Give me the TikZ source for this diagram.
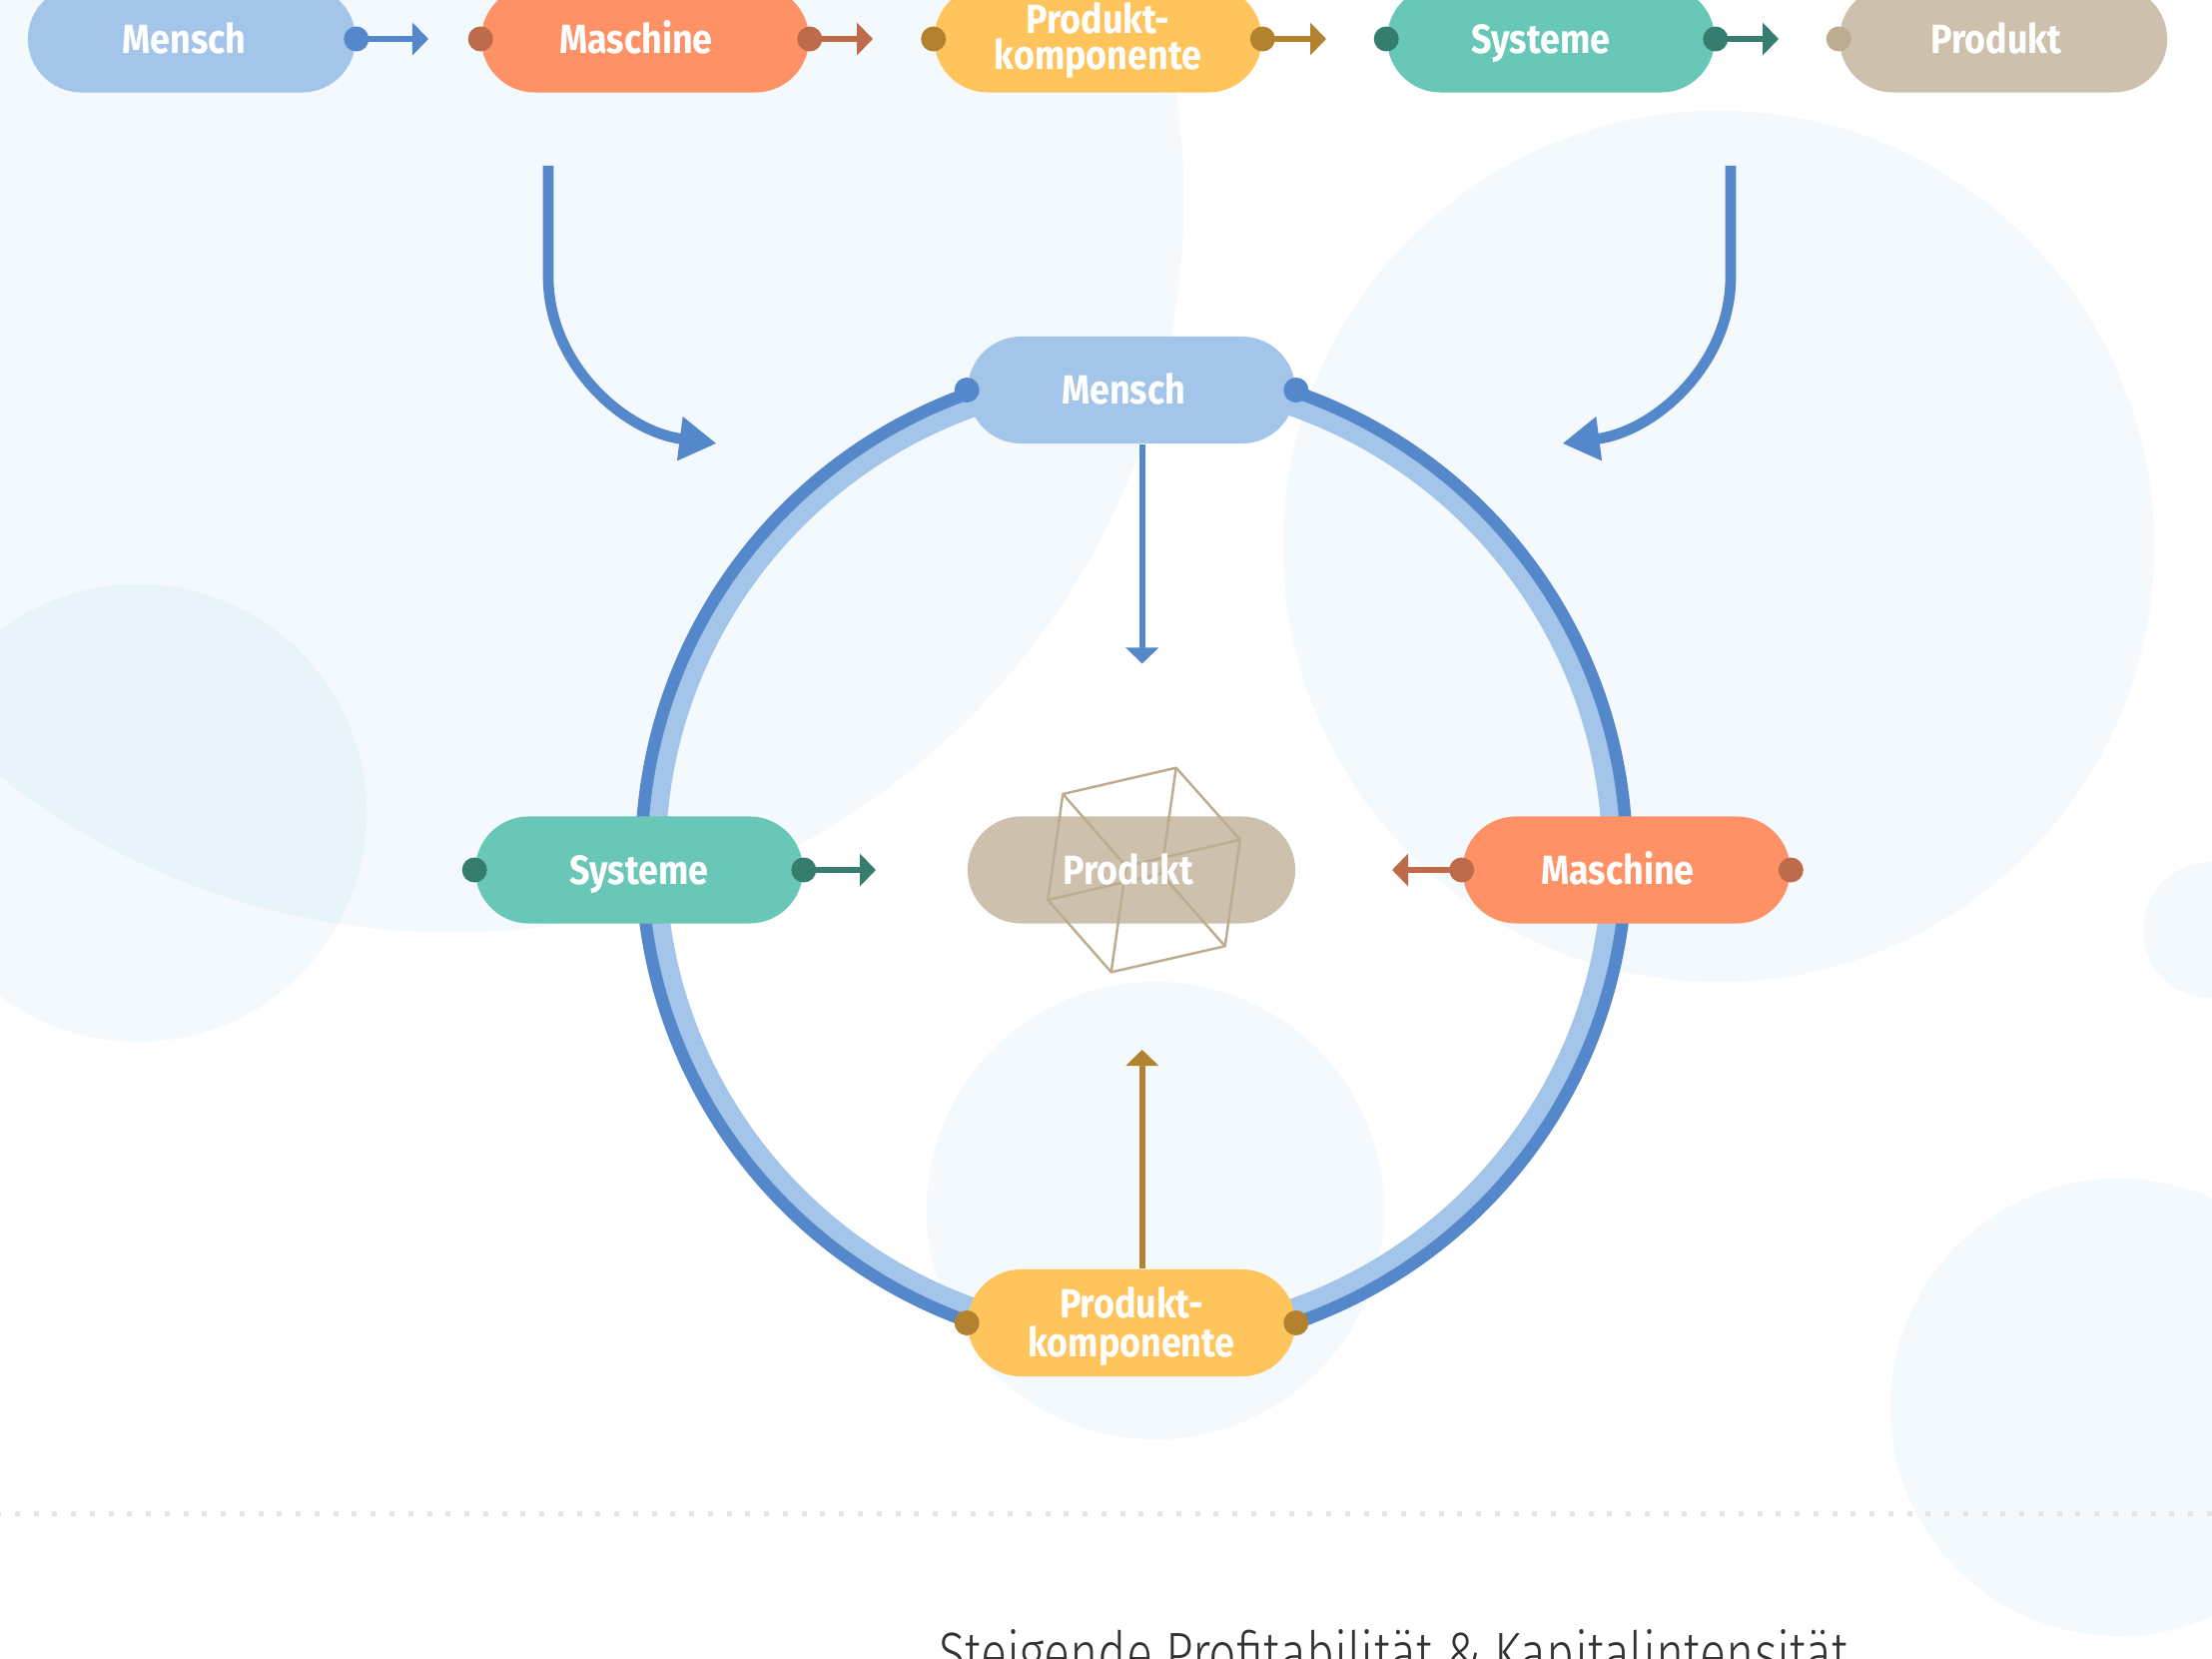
\documentclass[tikz,border=0pt]{standalone}
\usepackage{fontspec}
\setmainfont{Fira Sans}[FakeStretch=0.88]
\newfontfamily\captionfont{Fira Sans Light}[FakeStretch=0.81]
\usetikzlibrary{arrows.meta,shapes.misc}

\definecolor{bubble}{HTML}{4E9FD6}
\definecolor{blueL}{HTML}{A4C5EA}
\definecolor{blueD}{HTML}{5588CB}
\definecolor{coralL}{HTML}{FF9166}
\definecolor{coralD}{HTML}{BD6B4A}
\definecolor{yellowL}{HTML}{FFC45C}
\definecolor{yellowD}{HTML}{B3822E}
\definecolor{tealL}{HTML}{69C7B7}
\definecolor{tealD}{HTML}{347D6F}
\definecolor{tanL}{HTML}{CDC0AC}
\definecolor{tanD}{HTML}{BCAD90}

\tikzset{
  pill/.style={rounded rectangle,minimum width=3.28cm,minimum height=1.07cm,inner sep=0pt,
    text=white,font=\bfseries\fontsize{11.6}{10.9}\selectfont,text height=.28cm,text depth=0pt},
  pilltext/.style={inner sep=0pt,text=white,font=\bfseries\fontsize{11.6}{10.9}\selectfont,align=center},
  bubblefill/.style={fill=bubble,fill opacity=.065},
  dotmark/.style={circle,minimum size=.25cm,inner sep=0pt,outer sep=0pt},
  thinarrow/.style={line width=.06cm,-{Triangle[length=.16cm,width=.32cm]}},
  bigarrow/.style={blueD,line width=.107cm,-{Triangle[length=.37cm,width=.42cm]}},
  cubeline/.style={tanD,line width=.025cm,line join=round}
}

\begin{document}
\begin{tikzpicture}[x=0.01cm,y=-0.01cm]
\useasboundingbox (0,0) rectangle (2215,1661);
\def\ringdark{(1135.5,858.5) circle (4.93cm)}
\def\ringlight{(1135.5,858.5) circle (4.78cm)}

% background bubbles
\fill[bubblefill] (452,200) circle (7.33cm);
\fill[bubblefill] (1721,547) circle (4.36cm);
\fill[bubblefill] (138,814) circle (2.29cm);
\fill[bubblefill] (1157,1212) circle (2.29cm);
\fill[bubblefill] (2214,931) circle (.68cm);
\fill[bubblefill] (2122,1409) circle (2.29cm);

\draw[black!10,line width=.05cm,dash pattern=on .05cm off .1375cm] (-4,1515) -- (2215,1515);

% the ring
\draw[blueL,line width=.19cm] \ringlight;
\draw[blueD,line width=.125cm] \ringdark;

% top row
\node[pill,fill=blueL] (topMensch) at (192,39) {Mensch\kern.15cm};
\node[pill,fill=coralL] (topMaschine) at (646,39) {Maschine\kern.18cm};
\node[pill,fill=yellowL] (topKomp) at (1099.5,39) {};
\node[pilltext,font=\bfseries\fontsize{11.6}{10.2}\selectfont] (topKompText) at (1099.5,40.5) {Produkt-\\komponente};
\node[pill,fill=tealL] (topSysteme) at (1553,39) {Systeme\kern.2cm};
\node[pill,fill=tanL] (topProdukt) at (2006,39) {Produkt\kern.14cm};

\node[dotmark,fill=blueD] (dotA) at (topMensch.east) {};
\node[dotmark,fill=coralD] (dotB) at (topMaschine.west) {};
\node[dotmark,fill=coralD] (dotC) at (topMaschine.east) {};
\node[dotmark,fill=yellowD] (dotD) at (topKomp.west) {};
\node[dotmark,fill=yellowD] (dotE) at (topKomp.east) {};
\node[dotmark,fill=tealD] (dotF) at (topSysteme.west) {};
\node[dotmark,fill=tealD] (dotG) at (topSysteme.east) {};
\node[dotmark,fill=tanD] (dotH) at (topProdukt.west) {};

\coordinate (tipA) at (429,39);
\coordinate (tipC) at (874,39);
\coordinate (tipE) at (1328,39);
\coordinate (tipG) at (1781,39);
\draw[thinarrow,blueD] (dotA.center) -- (tipA);
\draw[thinarrow,coralD] (dotC.center) -- (tipC);
\draw[thinarrow,yellowD] (dotE.center) -- (tipE);
\draw[thinarrow,tealD] (dotG.center) -- (tipG);

% the two curved arrows
\coordinate (leftStart) at (549,166);
\coordinate (leftEnd) at (717.5,444);
\coordinate (rightStart) at (1733,166);
\coordinate (rightEnd) at (1564.5,444);
\draw[bigarrow] (leftStart) -- (549,277) .. controls (549,365) and (625,432) .. (leftEnd);
\draw[bigarrow] (rightStart) -- (1733,277) .. controls (1733,365) and (1657,432) .. (rightEnd);

% pills on the ring
\node[pill,fill=blueL] (ringMensch) at (1133,390.5) {Mensch\kern.16cm};
\node[pill,fill=yellowL] (ringKomp) at (1133,1324.5) {};
\node[pilltext] (ringKompText) at (1133,1328) {Produkt-\\komponente};
\node[pill,fill=tealL] (ringSysteme) at (640,871) {Systeme};
\node[pill,fill=coralL] (ringMaschine) at (1628.5,871) {Maschine\kern.17cm};
\node[pill,fill=tanL] (ringProdukt) at (1133,871) {};

\node[dotmark,fill=blueD] (dotI) at (ringMensch.west) {};
\node[dotmark,fill=blueD] (dotJ) at (ringMensch.east) {};
\node[dotmark,fill=yellowD] (dotK) at (ringKomp.west) {};
\node[dotmark,fill=yellowD] (dotL) at (ringKomp.east) {};
\node[dotmark,fill=tealD] (dotM) at (ringSysteme.west) {};
\node[dotmark,fill=tealD] (dotN) at (ringSysteme.east) {};
\node[dotmark,fill=coralD] (dotO) at (ringMaschine.west) {};
\node[dotmark,fill=coralD] (dotP) at (ringMaschine.east) {};

\coordinate (tipN) at (877,871);
\coordinate (tipO) at (1394,871);
\coordinate (tipDown) at (1143.7,664.5);
\coordinate (tipUp) at (1143.7,1051);
\draw[thinarrow,tealD] (dotN.center) -- (tipN);
\draw[thinarrow,coralD] (dotO.center) -- (tipO);
\draw[thinarrow,blueD] (tipDown |- ringMensch.south) -- (tipDown);
\draw[thinarrow,yellowD] (tipUp |- ringKomp.north) -- (tipUp);

% cube around the product
\draw[cubeline] (1064.3,795) -- (1177.7,768.7) -- (1241.7,840.7) -- (1226.7,947.3)
  -- (1112.7,973.3) -- (1049.3,901) -- cycle;
\draw[cubeline] (1064.3,795) -- (1127.7,867.3) -- (1241.7,840.7);
\draw[cubeline] (1127.7,867.3) -- (1112.7,973.3);
\draw[cubeline] (1177.7,768.7) -- (1162.7,874.7) -- (1226.7,947.3);
\draw[cubeline] (1162.7,874.7) -- (1049.3,901);
\node[pill] (ringProduktText) at (1130,871) {Produkt};

\node[anchor=base,inner sep=0pt,text=black!80] (caption) at (1396,1676)
  {\captionfont\fontsize{17}{20}\selectfont Steigende Profitabilität \& Kapitalintensität};
\end{tikzpicture}
\end{document}
